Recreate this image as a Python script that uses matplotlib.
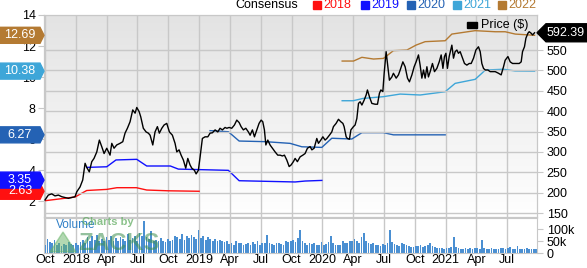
import matplotlib
matplotlib.use("Agg")
import matplotlib.pyplot as plt
import numpy as np
from matplotlib.patches import Polygon

plt.rcParams['font.family'] = ['Liberation Sans', 'DejaVu Sans']

# x axis is months since Oct 2017
tick_months = [0, 3, 6, 9, 12, 15, 18, 21, 24, 27, 30, 33, 36, 39, 42, 45]
tick_labels = ["Oct", "2018", "Apr", "Jul", "Oct", "2019", "Apr", "Jul",
               "Oct", "2020", "Apr", "Jul", "Oct", "2021", "Apr", "Jul"]

price_month = [0.0, 0.32, 0.65, 0.97, 1.3, 1.63, 1.95, 2.27, 2.6, 2.92, 3.09, 3.41, 3.67, 3.9,
               4.06, 4.31, 4.55, 4.77, 5.04, 5.29, 5.52, 5.75, 6.01, 6.33, 6.5, 6.72, 6.98, 7.3,
               7.57, 7.79, 8.02, 8.28, 8.54, 8.77, 8.93, 9.16, 9.32, 9.57, 9.84, 10.06, 10.23,
               10.49, 10.71, 10.94, 11.13, 11.37, 11.59, 11.85, 12.11, 12.4, 12.66, 12.83, 13.05,
               13.25, 13.47, 13.7, 13.9, 14.12, 14.29, 14.54, 14.71, 14.93, 15.1, 15.32, 15.58,
               15.85, 16.07, 16.3, 16.56, 16.82, 17.04, 17.27, 17.53, 17.7, 17.92, 18.18, 18.44,
               18.67, 18.9, 19.09, 19.31, 19.55, 19.8, 19.97, 20.19, 20.39, 20.62, 20.84, 21.04,
               21.2, 21.36, 21.5, 21.69, 21.91, 22.14, 22.4, 22.66, 22.89, 23.11, 23.31, 23.54,
               23.77, 23.96, 24.18, 24.35, 24.57, 24.84, 25.1, 25.32, 25.55, 25.81, 25.98, 26.2,
               26.46, 26.62, 26.85, 27.05, 27.27, 27.44, 27.69, 27.92, 28.08, 28.34, 28.57, 28.8,
               29.0, 29.12, 29.32, 29.44, 29.64, 29.78, 30.03, 30.19, 30.36, 30.52, 30.68, 30.85,
               31.07, 31.27, 31.39, 31.59, 31.82, 32.14, 32.37, 32.56, 32.7, 32.89, 33.02, 33.21,
               33.34, 33.53, 33.77, 33.92, 34.19, 34.41, 34.58, 34.84, 35.06, 35.29, 35.48, 35.72,
               35.94, 36.13, 36.36, 36.52, 36.69, 36.85, 37.01, 37.18, 37.33, 37.5, 37.72, 37.92,
               38.15, 38.38, 38.57, 38.74, 38.89, 39.03, 39.18, 39.35, 39.61, 39.77, 39.93, 40.1,
               40.25, 40.42, 40.59, 40.84, 41.07, 41.3, 41.49, 41.72, 41.95, 42.2, 42.37, 42.53,
               42.69, 42.86, 43.12, 43.34, 43.57, 43.83, 44.15, 44.41, 44.64, 44.8, 45.07, 45.29,
               45.52, 45.78, 46.17, 46.36, 46.49, 46.68, 46.82, 47.01, 47.14, 47.34, 47.47, 47.66]
price = [182, 194, 197, 192, 194, 190, 188, 186, 188, 190, 202, 214, 231, 272,
         262, 251, 276, 284, 300, 329, 313, 296, 309, 292, 321, 309, 317, 321,
         325, 346, 358, 374, 403, 395, 409, 399, 386, 358, 349, 346, 341,
         317, 349, 362, 346, 358, 366, 370, 349, 341, 321, 300, 305,
         292, 280, 260, 284, 268, 260, 255, 246, 255, 288, 333, 337,
         337, 346, 347, 354, 349, 358, 354, 360, 358, 360, 358, 366,
         378, 372, 362, 354, 358, 349, 341, 354, 337, 354, 370, 378,
         374, 354, 317, 329, 317, 309, 300, 292, 292, 290, 292, 280,
         264, 268, 276, 284, 276, 288, 292, 296, 309, 313, 305, 309,
         333, 321, 329, 337, 329, 333, 341, 349, 362, 370, 380, 374,
         370, 362, 337, 333, 331, 354, 362, 366, 382, 419, 423, 415,
         427, 440, 452, 435, 419, 417, 417, 444, 452, 448, 493, 546,
         517, 476, 484, 493, 481, 489, 501, 521, 509, 481, 472, 489,
         509, 521, 538, 513, 481, 501, 481, 509, 484, 497, 517, 497,
         505, 521, 538, 505, 534, 542, 505, 534, 562, 530, 546, 550,
         542, 546, 534, 517, 513, 517, 517, 530, 550, 558, 546, 517,
         505, 501, 501, 497, 497, 497, 493, 489, 509, 525, 534, 521,
         517, 517, 517, 521, 546, 558, 579, 591, 595, 591, 587, 592.39]

# consensus EPS estimates (left axis)
c2018_month = [0, 2.92, 4.06, 6.0, 7.0, 8.9, 9.9, 12.0, 15.0]
c2018_eps = [2.02, 2.26, 2.68, 2.75, 2.86, 2.86, 2.71, 2.66, 2.63]
c2019_month = [4.06, 6.01, 6.91, 8.93, 9.9, 12.2, 12.98, 17.85, 18.9, 24.35, 25.32, 26.95]
c2019_eps = [4.17, 4.21, 4.65, 4.69, 4.26, 4.26, 4.06, 3.98, 3.31, 3.23, 3.29, 3.33]
c2020_month = [16.07, 17.85, 18.9, 21.43, 23.86, 25.0, 26.95, 27.92, 29.87, 30.85, 32.95, 33.92, 38.96]
c2020_eps = [6.54, 6.47, 5.87, 5.83, 5.72, 5.5, 5.46, 6.05, 6.0, 6.41, 6.41, 6.27, 6.27]
c2021_month = [28.93, 30.0, 30.97, 32.92, 34.58, 36.52, 38.96, 39.93, 41.88, 42.53, 42.86, 44.64, 45.78, 47.66]
c2021_eps = [8.47, 8.47, 8.62, 8.73, 8.9, 8.84, 9.05, 9.59, 9.85, 10.24, 10.45, 10.5, 10.39, 10.38]
c2022_month = [28.93, 30.03, 30.85, 31.98, 32.95, 33.92, 35.23, 36.13, 37.01, 38.96, 39.61, 41.88, 43.83, 44.8, 45.78, 47.66]
c2022_eps = [11.03, 11.03, 11.27, 11.16, 11.2, 11.7, 11.74, 12.06, 12.28, 12.34, 12.77, 12.99, 12.92, 12.92, 12.77, 12.69]

years = ["2018", "2019", "2020", "2021", "2022"]
year_colors = ["#ff1010", "#1010ff", "#2462b4", "#3ea6d8", "#b47a32"]
last_eps = [2.63, 3.35, 6.27, 10.38, 12.69]

# weekly volume, thousands
volume = [35, 60, 45, 40, 55, 35, 42, 30, 38, 35, 45,
          38, 32, 40, 35, 45, 55, 42,
          65, 50, 70, 55, 75, 48, 60, 52, 68,
          55, 72, 48, 62, 52, 68, 58, 50, 78, 55, 62, 70, 52, 85,
          70, 133, 65,
          60, 90, 50, 55, 48, 62, 52, 45, 58, 50, 55,
          72, 65, 58, 80, 55, 70, 62, 75, 66, 58, 95, 62,
          70, 55, 65, 60, 52, 58, 48, 55, 50, 45, 52,
          38, 42, 35, 50, 40, 42, 35, 38, 40, 35, 45, 38, 48, 35, 40, 42, 75,
          42, 38, 35, 40, 42, 38, 35, 50, 45,
          48, 55, 45, 62, 95, 48,
          40, 35, 42, 38, 40, 32, 35, 45,
          35, 38, 45, 72, 42, 35, 32, 35,
          48, 42, 40, 52, 48, 58, 50, 42,
          65, 82, 48, 40,
          38, 40, 35, 32, 30, 38, 32, 40,
          95, 45,
          38, 32, 30, 42, 38, 32, 28, 26, 24, 30, 28, 32, 26,
          28, 34, 40, 30, 24, 20, 22, 20, 18, 20, 22, 26, 65,
          24, 20, 18, 15, 20, 18, 20, 18, 22, 20, 18, 55, 20,
          18, 15, 20, 18, 15, 18, 20, 22, 18, 20, 25, 18, 15, 28, 15, 18, 15, 20, 18, 15, 18, 15]

W, H = 587, 268
fig = plt.figure(figsize=(W / 100, H / 100), dpi=100)
ax = fig.add_axes([44 / W, 1 - 217 / H, 493 / W, 202 / H])
axv = fig.add_axes([44 / W, 1 - 253 / H, 493 / W, 35 / H], sharex=ax)
axp = ax.twinx()

grid_c = "#c8c8c8"
xmin, xmax = -0.1, 47.9

# gradient background, light grey at top to white at bottom
shade = np.linspace(0.89, 1.0, 100)
grad = np.dstack([shade, shade, shade]).reshape(100, 1, 3)
ax.imshow(grad, extent=[0, 1, 0, 1], transform=ax.transAxes, aspect="auto", zorder=0)

ax.set_ylim(0.97, 14)
axp.set_ylim(140.2, 636)
ax.set_xlim(xmin, xmax)

for i, (mo, ep) in enumerate([(c2018_month, c2018_eps), (c2019_month, c2019_eps),
                              (c2020_month, c2020_eps), (c2021_month, c2021_eps),
                              (c2022_month, c2022_eps)]):
    ax.plot(mo, ep, color=year_colors[i], lw=1, zorder=3)

axp.plot(price_month, price, color="black", lw=1, zorder=4)
axp.set_yticks([150, 200, 250, 300, 350, 400, 450, 500, 550])
axp.grid(axis="y", color=grid_c, lw=1)
axp.set_zorder(ax.get_zorder() + 1)
axp.patch.set_visible(False)
ax.set_xticks(tick_months)
ax.grid(axis="x", color=grid_c, lw=1)
ax.set_axisbelow(True)
ax.set_yticks([2, 4, 6, 8, 10, 12, 14])
ax.tick_params(axis="y", length=4, color=grid_c, labelsize=9, pad=2)
axp.tick_params(axis="y", length=4, color=grid_c, labelsize=9, pad=3)
ax.tick_params(axis="x", length=0, labelbottom=False)
for a in (ax, axp):
    for s in a.spines.values():
        s.set_color(grid_c)

# volume
vol_month = np.arange(len(volume)) * 12 / 52.18
axv.bar(vol_month, volume, width=0.17, color="#4a8fd2", zorder=2)
axv.set_ylim(0, 146)
axv.yaxis.tick_right()
axv.set_yticks([0, 50, 100])
axv.set_yticklabels(["0", "50k", "100k"])
axv.tick_params(axis="y", length=4, color=grid_c, labelsize=9, pad=3)
axv.set_xticks(tick_months)
axv.set_xticklabels(tick_labels)
axv.tick_params(axis="x", length=0, labelsize=9, pad=1)
axv.grid(axis="x", color=grid_c, lw=1)
axv.set_axisbelow(True)
for s in axv.spines.values():
    s.set_color(grid_c)
axv.set_xlim(xmin, xmax)

axv.text(0.025, 0.7, "Volume", transform=axv.transAxes, color="#2f7fc6", fontsize=8.5)
fig.text(82 / W, 1 - 222 / H, "Charts by", color="#5aa85a", alpha=0.7, fontsize=8,
         fontweight="bold", va="center")
fig.text(78 / W, 1 - 243 / H, "ZACKS", color="#3d8f4f", alpha=0.55, fontsize=17,
         fontweight="bold", va="center")
fig.patches.append(Polygon([(50, H - 252), (76, H - 252), (63, H - 232)], closed=True,
                           transform=None, color="#66b366", alpha=0.5))

# legend row
fig.text(298 / W, 1 - 5 / H, "Consensus", ha="right", va="center", fontsize=9)
sq_x = [313, 361, 407, 453, 498]
for i, yr in enumerate(years):
    fig.patches.append(Polygon([(sq_x[i], H - 1), (sq_x[i] + 8, H - 1), (sq_x[i] + 8, H - 9),
                                (sq_x[i], H - 9)], closed=True, transform=None,
                               color=year_colors[i]))
    fig.text((sq_x[i] + 10) / W, 1 - 5 / H, yr, color=year_colors[i], va="center", fontsize=9)

fig.patches.append(Polygon([(467, H - 22), (477, H - 22), (477, H - 28), (467, H - 28)],
                           closed=True, transform=None, color="black"))
fig.text(481 / W, 1 - 25 / H, "Price ($)", va="center", fontsize=9)

fig.canvas.draw()

# left value tags
for i in range(len(years)):
    yd = ax.transData.transform((0, last_eps[i]))[1]
    fig.patches.append(Polygon([(0, yd - 8), (40, yd - 8), (44, yd), (40, yd + 8), (0, yd + 8)],
                               closed=True, transform=None, color=year_colors[i], zorder=5))
    fig.text(20 / W, yd / H, f"{last_eps[i]:.2f}", color="white", ha="center", va="center",
             fontsize=9, zorder=6)

# right price tag
yd = axp.transData.transform((0, price[-1]))[1]
fig.patches.append(Polygon([(537, yd), (546, yd + 9), (587, yd + 9), (587, yd - 9), (546, yd - 9)],
                           closed=True, transform=None, color="black", zorder=5))
fig.text(566 / W, yd / H, f"{price[-1]:.2f}", color="white", ha="center", va="center",
         fontsize=9, zorder=6)

fig.savefig("out.png", dpi=100)
